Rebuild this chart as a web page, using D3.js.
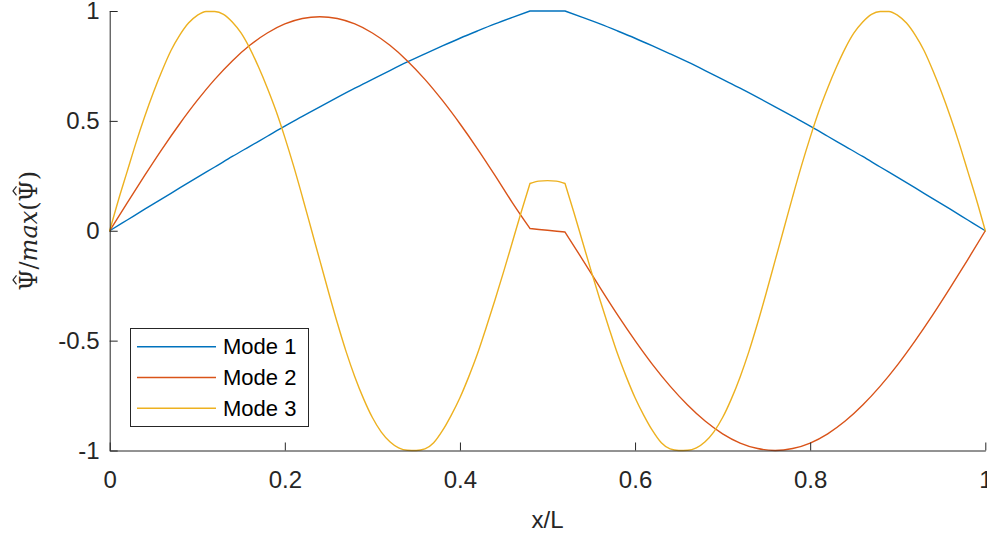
<!DOCTYPE html>
<html>
<head>
<meta charset="utf-8">
<script src="https://cdn.jsdelivr.net/npm/d3@7"></script>
<style>
  html, body { margin: 0; padding: 0; background: #ffffff; }
  svg { display: block; }
</style>
</head>
<body>
<svg id="chart" width="987" height="536"></svg>
<script>
// Sample positions along the beam (x/L)
const xCoarse = [0,0.02,0.04,0.06,0.08,0.10,0.12,0.14,0.16,0.18,0.20,0.22,0.24,0.26,0.28,0.30,0.32,0.34,0.36,0.38,0.40,0.42,0.44,0.46,0.48,0.50,0.52,0.54,0.56,0.58,0.60,0.62,0.64,0.66,0.68,0.70,0.72,0.74,0.76,0.78,0.80,0.82,0.84,0.86,0.88,0.90,0.92,0.94,0.96,0.98,1.00];
const xFine = [0,0.01,0.02,0.03,0.04,0.05,0.06,0.07,0.08,0.09,0.10,0.11,0.12,0.13,0.14,0.15,0.16,0.17,0.18,0.19,0.20,0.21,0.22,0.23,0.24,0.25,0.26,0.27,0.28,0.29,0.30,0.31,0.32,0.33,0.34,0.35,0.36,0.37,0.38,0.39,0.40,0.41,0.42,0.43,0.44,0.45,0.46,0.47,0.48,0.49,0.50,0.51,0.52,0.53,0.54,0.55,0.56,0.57,0.58,0.59,0.60,0.61,0.62,0.63,0.64,0.65,0.66,0.67,0.68,0.69,0.70,0.71,0.72,0.73,0.74,0.75,0.76,0.77,0.78,0.79,0.80,0.81,0.82,0.83,0.84,0.85,0.86,0.87,0.88,0.89,0.90,0.91,0.92,0.93,0.94,0.95,0.96,0.97,0.98,0.99,1.00];

// Normalised mode shapes
const mode1 = [0,0.049,0.098,0.146,0.195,0.243,0.290,0.338,0.384,0.430,0.476,0.520,0.564,0.607,0.649,0.689,0.729,0.768,0.805,0.841,0.876,0.909,0.941,0.971,1.000,1.000,1.000,0.971,0.941,0.909,0.876,0.841,0.805,0.768,0.729,0.689,0.649,0.607,0.564,0.520,0.476,0.430,0.384,0.338,0.290,0.243,0.195,0.146,0.098,0.049,0];
const mode2 = [0,0.127,0.252,0.373,0.487,0.593,0.689,0.773,0.844,0.900,0.941,0.966,0.974,0.966,0.941,0.900,0.844,0.773,0.689,0.593,0.487,0.373,0.252,0.127,0.010,0.002,-0.006,-0.131,-0.259,-0.383,-0.500,-0.609,-0.707,-0.793,-0.866,-0.924,-0.966,-0.991,-1.000,-0.991,-0.966,-0.924,-0.866,-0.793,-0.707,-0.609,-0.500,-0.383,-0.259,-0.131,0];
const mode3 = [0,0.14,0.27,0.40,0.52,0.63,0.73,0.82,0.89,0.945,0.98,0.998,0.998,0.985,0.95,0.90,0.83,0.745,0.65,0.545,0.425,0.295,0.155,0.01,-0.135,-0.28,-0.42,-0.55,-0.665,-0.765,-0.85,-0.915,-0.96,-0.988,-0.999,-1.0,-0.993,-0.965,-0.91,-0.84,-0.76,-0.665,-0.56,-0.44,-0.315,-0.185,-0.05,0.085,0.215,0.226,0.228,0.226,0.215,0.085,-0.05,-0.185,-0.315,-0.44,-0.56,-0.665,-0.76,-0.84,-0.91,-0.965,-0.993,-1.0,-0.999,-0.988,-0.96,-0.915,-0.85,-0.765,-0.665,-0.55,-0.42,-0.28,-0.135,0.01,0.155,0.295,0.425,0.545,0.65,0.745,0.83,0.90,0.95,0.985,0.998,0.998,0.98,0.945,0.89,0.82,0.73,0.63,0.52,0.40,0.27,0.14,0];

// Ends of the stiffened middle section, where the shapes have kinks
const sectionBreaks = [0.48, 0.52];

const seriesNames = ["Mode 1", "Mode 2", "Mode 3"];
const seriesColors = ["#0072BD", "#D95319", "#EDB120"];
const xTicks = [0, 0.2, 0.4, 0.6, 0.8, 1];
const yTicks = [-1, -0.5, 0, 0.5, 1];

const series = [
  { name: seriesNames[0], color: seriesColors[0], pts: xCoarse.map((x, i) => [x, mode1[i]]) },
  { name: seriesNames[1], color: seriesColors[1], pts: xCoarse.map((x, i) => [x, mode2[i]]) },
  { name: seriesNames[2], color: seriesColors[2], pts: xFine.map((x, i) => [x, mode3[i]]) }
];

const svg = d3.select("#chart");
const axisColor = "#262626";
const plot = { left: 109.7, right: 985.3, top: 11, bottom: 450.5 };

const x = d3.scaleLinear().domain([0, 1]).range([plot.left, plot.right]);
const y = d3.scaleLinear().domain([-1, 1]).range([plot.bottom, plot.top]);

// Smooth curve within each section, sharp corner at the section ends
const line = d3.line()
  .x(d => x(d[0]))
  .y(d => y(d[1]))
  .curve(d3.curveMonotoneX);

function sectionedPath(pts) {
  const bounds = [0, ...sectionBreaks, 1];
  const parts = [];
  for (let k = 0; k < bounds.length - 1; k++) {
    const lo = bounds[k] - 1e-9, hi = bounds[k + 1] + 1e-9;
    parts.push(line(pts.filter(p => p[0] >= lo && p[0] <= hi)));
  }
  return parts.join("");
}

svg.append("g")
  .selectAll("path")
  .data(series)
  .join("path")
  .attr("fill", "none")
  .attr("stroke", d => d.color)
  .attr("stroke-width", 1.4)
  .attr("stroke-linecap", "round")
  .attr("stroke-linejoin", "round")
  .attr("d", d => sectionedPath(d.pts));

// Axes (ticks point inward)
const fmt = d => String(d);

const xAxis = svg.append("g")
  .attr("transform", `translate(0,${plot.bottom})`)
  .call(d3.axisBottom(x).tickValues(xTicks).tickFormat(fmt)
    .tickSizeInner(-8).tickSizeOuter(0).tickPadding(20));

const yAxis = svg.append("g")
  .attr("transform", `translate(${plot.left},0)`)
  .call(d3.axisLeft(y).tickValues(yTicks).tickFormat(fmt)
    .tickSizeInner(-8).tickSizeOuter(0).tickPadding(10));

[xAxis, yAxis].forEach(g => {
  g.select(".domain").attr("stroke", axisColor).attr("stroke-width", 1);
  g.selectAll(".tick line").attr("stroke", axisColor).attr("stroke-width", 1);
  g.selectAll(".tick text")
    .attr("fill", axisColor)
    .style("font-family", "'Liberation Sans', Arial, Helvetica, sans-serif")
    .style("font-size", "24px");
});

// Axis titles
svg.append("text")
  .attr("x", (plot.left + plot.right) / 2)
  .attr("y", 528)
  .attr("text-anchor", "middle")
  .attr("fill", axisColor)
  .style("font-family", "'Liberation Sans', Arial, Helvetica, sans-serif")
  .style("font-size", "24px")
  .text("x/L");

// Vertical title: Ψ̂/max(Ψ̂), with the hats drawn over each Ψ
const yTitleG = svg.append("g")
  .attr("transform", `translate(37,${(plot.top + plot.bottom) / 2}) rotate(-90)`);
const yTitle = yTitleG.append("text")
  .attr("x", 0).attr("y", 0)
  .attr("text-anchor", "middle")
  .attr("fill", axisColor)
  .style("font-family", "'DejaVu Serif', 'Liberation Serif', serif")
  .style("font-size", "24px");
yTitle.append("tspan").text("\u03A8/");
yTitle.append("tspan").style("font-style", "italic").text("max");
yTitle.append("tspan").text("(\u03A8)");

const titleNode = yTitle.node();
[0, 6].forEach(ci => {
  const ext = titleNode.getExtentOfChar(ci);
  const cx = ext.x + ext.width / 2;
  yTitleG.append("path")
    .attr("d", `M${cx - 4.5},-20.5 L${cx},-24 L${cx + 4.5},-20.5`)
    .attr("fill", "none")
    .attr("stroke", axisColor)
    .attr("stroke-width", 1.2);
});

// Legend
const legend = svg.append("g");
legend.append("rect")
  .attr("x", 130.5).attr("y", 328.5)
  .attr("width", 178).attr("height", 98)
  .attr("fill", "#ffffff")
  .attr("stroke", axisColor)
  .attr("stroke-width", 1);

const rowY = [346.7, 377.5, 408.3];
const items = legend.selectAll("g.item")
  .data(series)
  .join("g")
  .attr("class", "item")
  .attr("transform", (d, i) => `translate(0,${rowY[i]})`);

items.append("line")
  .attr("x1", 137).attr("x2", 216)
  .attr("y1", 0).attr("y2", 0)
  .attr("stroke", d => d.color)
  .attr("stroke-width", 1.4);

items.append("text")
  .attr("x", 223)
  .attr("y", 0)
  .attr("dy", "0.35em")
  .attr("fill", "#000000")
  .style("font-family", "'Liberation Sans', Arial, Helvetica, sans-serif")
  .style("font-size", "22px")
  .text(d => d.name);
</script>
</body>
</html>
